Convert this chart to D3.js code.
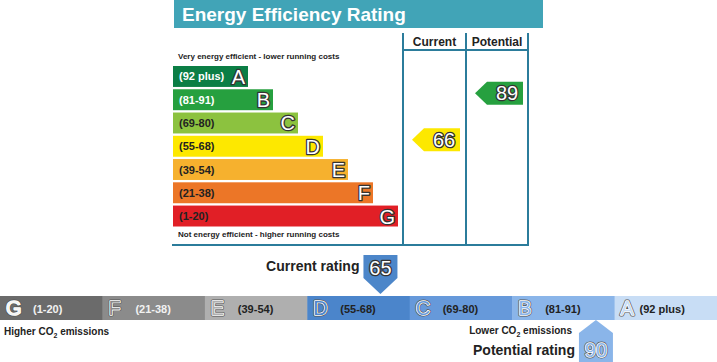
<!DOCTYPE html>
<html>
<head>
<meta charset="utf-8">
<script src="https://cdn.jsdelivr.net/npm/d3@7"></script>
<style>
  body { margin: 0; background: #fff; }
  svg { display: block; font-family: "Liberation Sans", Arial, sans-serif; }
</style>
</head>
<body>
<div class="svg-wrapper"></div>
<script>
// bands, best first
var bands       = ["A", "B", "C", "D", "E", "F", "G"];
var rangeLabels = ["(92 plus)", "(81-91)", "(69-80)", "(55-68)", "(39-54)", "(21-38)", "(1-20)"];
var lowerBounds = [92, 81, 69, 55, 39, 21, 1];
var eeColors    = ["#0b7e45", "#26a03f", "#8cc23f", "#fde800", "#f6b12e", "#ec7627", "#e11f26"];
var co2Colors   = ["#c8ddf5", "#8ab5e9", "#6699da", "#4b85cb", "#afafaf", "#8b8b8b", "#6b6b6b"];
var eeTextLight = ["A", "B"];
var co2TextLight = ["F", "G"];

var currentEE = 66, potentialEE = 89;
var currentCO2 = 65, potentialCO2 = 90;

var width = 717, height = 362;

var svg = d3.select(".svg-wrapper").append("svg")
  .attr("width", width)
  .attr("height", height);

function bandOf(v) {
  for (var i = 0; i < bands.length; i++) if (v >= lowerBounds[i]) return bands[i];
  return bands[bands.length - 1];
}

function outlined(g, txt, x, y, size, anchor, fill, edge) {
  g.append("text").attr("x", x).attr("y", y).attr("font-size", size)
    .attr("text-anchor", anchor).attr("fill", "none")
    .attr("stroke", edge).attr("stroke-width", 2.6).attr("stroke-linejoin", "round").text(txt);
  g.append("text").attr("x", x).attr("y", y).attr("font-size", size)
    .attr("text-anchor", anchor).attr("fill", fill).text(txt);
}

function hollow(g, txt, x, y, size, anchor, inner) {
  g.append("text").attr("x", x).attr("y", y).attr("font-size", size).attr("text-anchor", anchor)
    .attr("fill", "none").attr("stroke", "#555").attr("stroke-width", 3).attr("stroke-linejoin", "round").text(txt);
  g.append("text").attr("x", x).attr("y", y).attr("font-size", size).attr("text-anchor", anchor)
    .attr("fill", "none").attr("stroke", "#fff").attr("stroke-width", 1.6).attr("stroke-linejoin", "round").text(txt);
  g.append("text").attr("x", x).attr("y", y).attr("font-size", size).attr("text-anchor", anchor)
    .attr("fill", inner).text(txt);
}

// ---- Energy efficiency rating ----
var panel = svg.append("g");

panel.append("rect").attr("x", 174).attr("y", 0).attr("width", 369).attr("height", 28).attr("fill", "#41a4b7");
panel.append("text").attr("x", 182).attr("y", 21).attr("fill", "#fff")
  .attr("font-size", 19).attr("font-weight", "bold").text("Energy Efficiency Rating");

var y = d3.scaleBand().domain(bands).range([66, 226.5]).paddingInner(0.1).paddingOuter(0);
var barRight = d3.scaleLinear().domain([0, bands.length - 1]).range([248, 398]);
var barLeft = 173;

panel.append("text").attr("x", 178).attr("y", 59).attr("font-size", 8).attr("font-weight", "bold")
  .attr("fill", "#222").text("Very energy efficient - lower running costs");
panel.append("text").attr("x", 178).attr("y", 237).attr("font-size", 8).attr("font-weight", "bold")
  .attr("fill", "#222").text("Not energy efficient - higher running costs");

bands.forEach(function (b, i) {
  var g = panel.append("g");
  g.append("rect").attr("x", barLeft).attr("y", y(b))
    .attr("width", barRight(i) - barLeft).attr("height", y.bandwidth()).attr("fill", eeColors[i]);
  g.append("text").attr("x", 179).attr("y", y(b) + y.bandwidth() / 2 + 4)
    .attr("font-size", 11).attr("font-weight", "bold")
    .attr("fill", eeTextLight.indexOf(b) >= 0 ? "#fff" : "#222").text(rangeLabels[i]);
  outlined(g, b, barRight(i) - 3, y(b) + y.bandwidth() / 2 + 7.5, 20, "end", "#fff", "#333");
});

// column frame
var colCur = 403, colPot = 466, colEnd = 528;
var lineColor = "#2b7c9b";
[colCur, colPot, colEnd].forEach(function (cx) {
  panel.append("line").attr("x1", cx).attr("x2", cx).attr("y1", 33).attr("y2", 246)
    .attr("stroke", lineColor).attr("stroke-width", 2);
});
panel.append("line").attr("x1", colCur).attr("x2", colEnd).attr("y1", 50).attr("y2", 50)
  .attr("stroke", lineColor).attr("stroke-width", 2);
panel.append("line").attr("x1", 172).attr("x2", colEnd + 1).attr("y1", 245).attr("y2", 245)
  .attr("stroke", lineColor).attr("stroke-width", 2);
panel.append("text").attr("x", (colCur + colPot) / 2).attr("y", 46).attr("text-anchor", "middle")
  .attr("font-size", 12).attr("font-weight", "bold").attr("fill", "#222").text("Current");
panel.append("text").attr("x", (colPot + colEnd) / 2).attr("y", 46).attr("text-anchor", "middle")
  .attr("font-size", 12).attr("font-weight", "bold").attr("fill", "#222").text("Potential");

function eeArrow(colX, value) {
  var b = bandOf(value), i = bands.indexOf(b);
  var y0 = y(b) - 7.5, h = 23, tip = colX + 9, notch = tip + 12, right = colX + 57;
  var g = panel.append("g");
  g.append("path").attr("d", "M" + tip + "," + (y0 + h / 2) + "L" + notch + "," + y0 + "L" + right + "," + y0 +
      "L" + right + "," + (y0 + h) + "L" + notch + "," + (y0 + h) + "Z")
    .attr("fill", eeColors[i]);
  outlined(g, value, (notch + right) / 2 + 2, y0 + h / 2 + 7, 20, "middle", "#fff", "#333");
}
eeArrow(colCur, currentEE);
eeArrow(colPot, potentialEE);

// ---- CO2 bar ----
var strip = svg.append("g");
var order = bands.slice().reverse();
var x = d3.scaleBand().domain(order).range([0, width]);
var barY = 296, barH = 24;

var edges = order.map(function (b) { return x(b); }).concat([width]);
var bounds = order.map(function (b) { return lowerBounds[bands.indexOf(b)]; }).concat([101]);
var xv = d3.scaleLinear().domain(bounds).range(edges);

order.forEach(function (b) {
  var i = bands.indexOf(b);
  var g = strip.append("g");
  g.append("rect").attr("x", x(b)).attr("y", barY).attr("width", x.bandwidth() + 0.5).attr("height", barH)
    .attr("fill", co2Colors[i]);
  hollow(g, b, x(b) + 6, barY + 19, 20, "start", b == "G" ? "#f4f4f4" : co2Colors[i]);
  g.append("text").attr("x", x(b) + (b == "A" ? 25 : 33)).attr("y", barY + 16.5)
    .attr("font-size", 11).attr("font-weight", "bold")
    .attr("fill", co2TextLight.indexOf(b) >= 0 ? "#f2f2f2" : "#222").text(rangeLabels[i]);
});

function co2Label(g, word, xPos, yPos, anchor) {
  var txt = g.append("text").attr("x", xPos).attr("y", yPos).attr("text-anchor", anchor)
    .attr("font-size", 10).attr("font-weight", "bold").attr("fill", "#222");
  txt.append("tspan").text(word + " CO");
  txt.append("tspan").attr("font-size", 7).attr("dy", 3).text("2");
  txt.append("tspan").attr("dy", -3).text(" emissions");
}
co2Label(strip, "Higher", 4, 335, "start");
co2Label(strip, "Lower", 572, 334, "end");

// current marker (pointing down)
(function () {
  var px = xv(currentCO2), w = 34, top0 = 255, shoulder = 278, apex = barY - 2;
  strip.append("path").attr("d", "M" + (px - w / 2) + "," + top0 + "L" + (px + w / 2) + "," + top0 +
      "L" + (px + w / 2) + "," + shoulder + "L" + px + "," + apex + "L" + (px - w / 2) + "," + shoulder + "Z")
    .attr("fill", "#4c86c9");
  outlined(strip, currentCO2, px, 275, 20, "middle", "#fff", "#333");
  strip.append("text").attr("x", px - w / 2 - 4).attr("y", 271).attr("text-anchor", "end")
    .attr("font-size", 14).attr("font-weight", "bold").attr("fill", "#222").text("Current rating");
})();

// potential marker (pointing up)
(function () {
  var px = xv(potentialCO2), w = 34, apex = barY + barH, shoulder = 333, bot = 364;
  strip.append("path").attr("d", "M" + px + "," + apex + "L" + (px + w / 2) + "," + shoulder +
      "L" + (px + w / 2) + "," + bot + "L" + (px - w / 2) + "," + bot + "L" + (px - w / 2) + "," + shoulder + "Z")
    .attr("fill", "#8ab5e9");
  hollow(strip, potentialCO2, px, 357, 20, "middle", "#8ab5e9");
  strip.append("text").attr("x", px - w / 2 - 4).attr("y", 355).attr("text-anchor", "end")
    .attr("font-size", 14).attr("font-weight", "bold").attr("fill", "#222").text("Potential rating");
})();
</script>
</body>
</html>
